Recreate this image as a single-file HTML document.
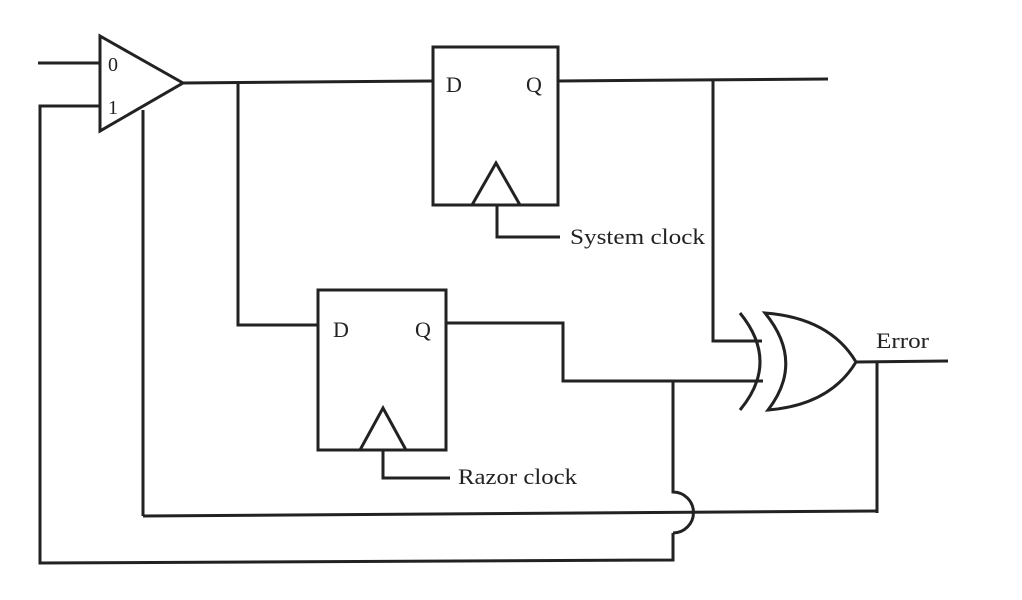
<!DOCTYPE html>
<html><head><style>body{margin:0;background:#fff}svg{display:block}</style></head><body>
<svg width="1022" height="600" viewBox="0 0 1022 600" xmlns="http://www.w3.org/2000/svg">
<g fill="none" stroke="#222" stroke-width="3" stroke-linejoin="miter">
<polygon points="100,36 183,83 100,131"/>
<line x1="38" y1="63" x2="100" y2="63"/>
<polyline points="100,106 40,106 40,563 673,560 673,533"/>
<line x1="143" y1="110" x2="143" y2="516"/>
<line x1="143" y1="516" x2="877" y2="511"/>
<polyline points="183,83 433,81"/>
<polyline points="238,83 238,325 318,325"/>
<rect x="433" y="47" width="125" height="158"/>
<polyline points="472,205 496,163 520,205"/>
<polyline points="497,205 497,237 560,237"/>
<line x1="558" y1="81" x2="828" y2="79"/>
<polyline points="713,80 713,341 762,341"/>
<rect x="318" y="290" width="128" height="160"/>
<polyline points="360,450 383,408 406,450"/>
<polyline points="383,450 383,478 450,478"/>
<polyline points="446,323 563,323 563,381 763,381"/>
<path d="M673,381 L673,492 A10.5,10.5 0 0 1 673,533"/>
<path d="M740,313 Q780,362 740,410"/>
<path d="M765,313 Q805,362 768,410 Q830,405 856,362 Q830,318 765,313 Z"/>
<line x1="856" y1="362" x2="948" y2="361"/>
<line x1="877" y1="362" x2="877" y2="513"/>
</g>
<g font-family="Liberation Serif, serif" fill="#222">
<text x="108" y="71" font-size="20">0</text>
<text x="108" y="114" font-size="20">1</text>
<text x="446" y="92" font-size="22">D</text>
<text x="526" y="92" font-size="22">Q</text>
<text x="333" y="337" font-size="22">D</text>
<text x="415" y="337" font-size="22">Q</text>
<text x="570" y="244" font-size="22" textLength="135" lengthAdjust="spacingAndGlyphs">System clock</text>
<text x="458" y="484" font-size="22" textLength="119" lengthAdjust="spacingAndGlyphs">Razor clock</text>
<text x="876" y="348" font-size="22" textLength="53" lengthAdjust="spacingAndGlyphs">Error</text>
</g>
</svg>
</body></html>
